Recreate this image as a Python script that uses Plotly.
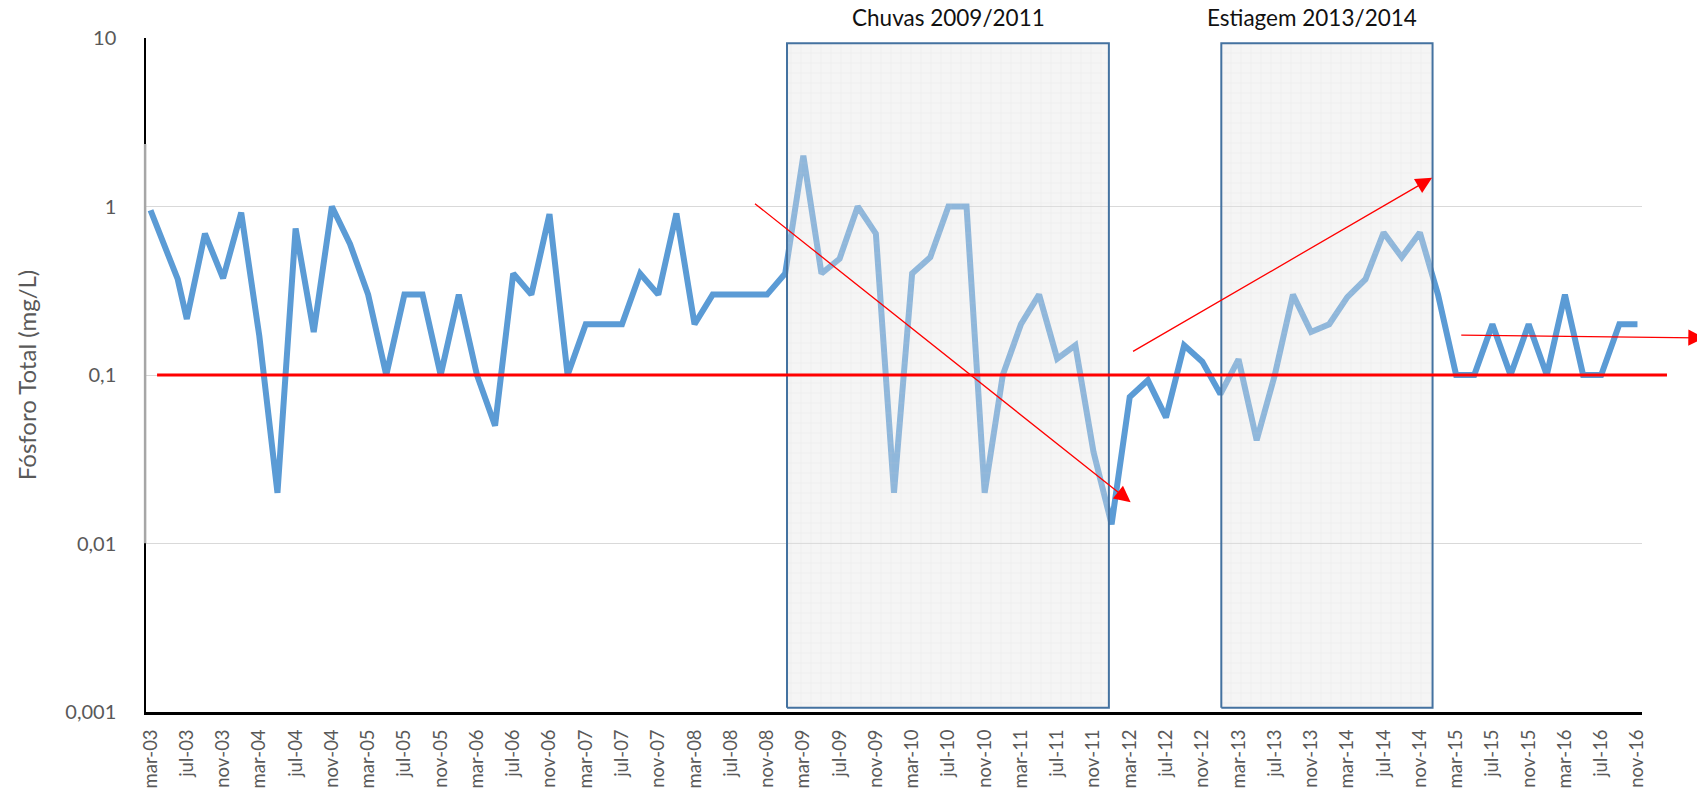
import numpy as np
import plotly.graph_objects as go

# ---------------- data ----------------
sample_dates = [
    "2003-03", "2003-06", "2003-07", "2003-09", "2003-11", "2004-01", "2004-03", "2004-05",
    "2004-07", "2004-09", "2004-11", "2005-01", "2005-03", "2005-05", "2005-07", "2005-09",
    "2005-11", "2006-01", "2006-03", "2006-05", "2006-07", "2006-09", "2006-11", "2007-01",
    "2007-03", "2007-05", "2007-07", "2007-09", "2007-11", "2008-01", "2008-03", "2008-05",
    "2008-07", "2008-09", "2008-11", "2009-01", "2009-03", "2009-05", "2009-07", "2009-09",
    "2009-11", "2010-01", "2010-03", "2010-05", "2010-07", "2010-09", "2010-11", "2011-01",
    "2011-03", "2011-05", "2011-07", "2011-09", "2011-11", "2012-01", "2012-03", "2012-05",
    "2012-07", "2012-09", "2012-11", "2013-01", "2013-03", "2013-05", "2013-07", "2013-09",
    "2013-11", "2014-01", "2014-03", "2014-05", "2014-07", "2014-09", "2014-11", "2015-01",
    "2015-03", "2015-05", "2015-07", "2015-09", "2015-11", "2016-01", "2016-03", "2016-05",
    "2016-07", "2016-09", "2016-11",
]
fosforo_total = [
    0.95, 0.37, 0.215, 0.69, 0.375, 0.92, 0.17, 0.02,
    0.74, 0.18, 1.0, 0.6, 0.3, 0.1, 0.3, 0.3,
    0.1, 0.3, 0.1, 0.05, 0.4, 0.3, 0.9, 0.1,
    0.2, 0.2, 0.2, 0.4, 0.3, 0.91, 0.2, 0.3,
    0.3, 0.3, 0.3, 0.4, 2.0, 0.4, 0.49, 1.0,
    0.69, 0.02, 0.4, 0.5, 1.0, 1.0, 0.02, 0.1,
    0.2, 0.3, 0.125, 0.15, 0.035, 0.013, 0.074, 0.093,
    0.056, 0.15, 0.12, 0.077, 0.124, 0.041, 0.1, 0.3,
    0.18, 0.2, 0.29, 0.37, 0.7, 0.5, 0.7, 0.3,
    0.1, 0.1, 0.2, 0.1, 0.2, 0.1, 0.3, 0.1,
    0.1, 0.2, 0.2,
]
tick_labels = [
    "mar-03", "jul-03", "nov-03", "mar-04", "jul-04", "nov-04", "mar-05", "jul-05",
    "nov-05", "mar-06", "jul-06", "nov-06", "mar-07", "jul-07", "nov-07", "mar-08",
    "jul-08", "nov-08", "mar-09", "jul-09", "nov-09", "mar-10", "jul-10", "nov-10",
    "mar-11", "jul-11", "nov-11", "mar-12", "jul-12", "nov-12", "mar-13", "jul-13",
    "nov-13", "mar-14", "jul-14", "nov-14", "mar-15", "jul-15", "nov-15", "mar-16",
    "jul-16", "nov-16",
]
limite = 0.1  # reference limit (mg/L)

# highlighted periods: label, start month, end month (months after mar-03)
period_labels = ["Chuvas 2009/2011", "Estiagem 2013/2014"]
period_start = [70.2, 118.1]
period_end = [105.7, 141.4]
period_label_x = [88.0, 128.1]
period_top = 9.3
period_bottom = 0.00106

# trend arrows: (tail month, tail value) -> (head month, head value)
arrow_tail_x = [66.5, 108.2, 144.4]
arrow_tail_y = [1.056, 0.1365, 0.1726]
arrow_head_x = [108.1, 141.35, 171.4]
arrow_head_y = [0.0176, 1.48, 0.166]

# ---------------- helpers ----------------
def month_index(s):
    y, m = s.split("-")
    return (int(y) - 2003) * 12 + (int(m) - 3)

x_vals = [month_index(d) for d in sample_dates]
tick_vals = [4 * i for i in range(len(tick_labels))]

FONT = "Lato"
GREY = "#595959"

fig = go.Figure()

fig.add_trace(go.Scatter(
    x=x_vals, y=fosforo_total, mode="lines",
    line=dict(color="#5B9BD5", width=6),
    hoverinfo="skip", showlegend=False,
))

# shaded period boxes drawn above the series
for x0, x1 in zip(period_start, period_end):
    fig.add_trace(go.Scatter(
        x=[x0, x1, x1, x0, x0],
        y=[period_bottom, period_bottom, period_top, period_top, period_bottom],
        mode="lines", fill="toself",
        fillcolor="rgba(228,228,228,0.38)",
        fillpattern=dict(shape="+", size=10, solidity=0.1,
                         fgcolor="rgba(200,200,200,0.55)", fillmode="overlay"),
        line=dict(color="#4472A0", width=2),
        hoverinfo="skip", showlegend=False,
    ))

shapes = [
    # limit line (extends beyond the plot area like the original)
    dict(type="line", xref="paper", yref="y", x0=0.0074, x1=1.0167,
         y0=limite, y1=limite, line=dict(color="#FF0000", width=3), layer="above"),
    # grey patch on the y-axis line
    dict(type="line", xref="paper", yref="paper", x0=-0.0006, x1=-0.0006,
         y0=0.2502, y1=0.8427, line=dict(color="#A6A6A6", width=2.5), layer="above"),
]

annotations = []
for lab, lx in zip(period_labels, period_label_x):
    annotations.append(dict(
        x=lx, xref="x", y=1.0297, yref="paper", text=lab, showarrow=False,
        xanchor="center", yanchor="middle",
        font=dict(family=FONT, size=22.5, color="#111111"),
    ))
for tx, ty, hx, hy in zip(arrow_tail_x, arrow_tail_y, arrow_head_x, arrow_head_y):
    annotations.append(dict(
        x=hx, y=np.log10(hy), xref="x", yref="y",
        ax=tx, ay=np.log10(ty), axref="x", ayref="y",
        text="", showarrow=True, arrowhead=2, arrowsize=2.5, arrowwidth=1.3,
        arrowcolor="#FF0000",
    ))

fig.update_layout(
    width=1697, height=791,
    margin=dict(l=146, r=55, t=38, b=79, autoexpand=False),
    paper_bgcolor="white", plot_bgcolor="white",
    showlegend=False, hovermode=False,
    shapes=shapes, annotations=annotations,
    font=dict(family=FONT, color=GREY),
    xaxis=dict(
        range=[-0.5, 164.5], tickmode="array", tickvals=tick_vals, ticktext=tick_labels,
        tickangle=-90, tickfont=dict(family=FONT, size=18.5, color=GREY),
        showgrid=False, zeroline=False, showline=True, linecolor="black", linewidth=3,
        ticks="", ticklabelstandoff=7, automargin=False,
    ),
    yaxis=dict(
        type="log", range=[-3, 1], tickmode="array",
        tickvals=[0.001, 0.01, 0.1, 1, 10], ticktext=["0,001", "0,01", "0,1", "1", "10"],
        tickfont=dict(family=FONT, size=20, color=GREY),
        showgrid=True, gridcolor="#D9D9D9", gridwidth=1,
        zeroline=False, showline=True, linecolor="black", linewidth=1.5,
        ticks="", ticklabelstandoff=24, automargin=False,
        title=dict(text="Fósforo Total (mg/L)", font=dict(family=FONT, size=24, color=GREY),
                   standoff=22),
    ),
)

fig.write_html("out.html", config={"displayModeBar": False},
               post_script="document.body.style.margin='0px';")
